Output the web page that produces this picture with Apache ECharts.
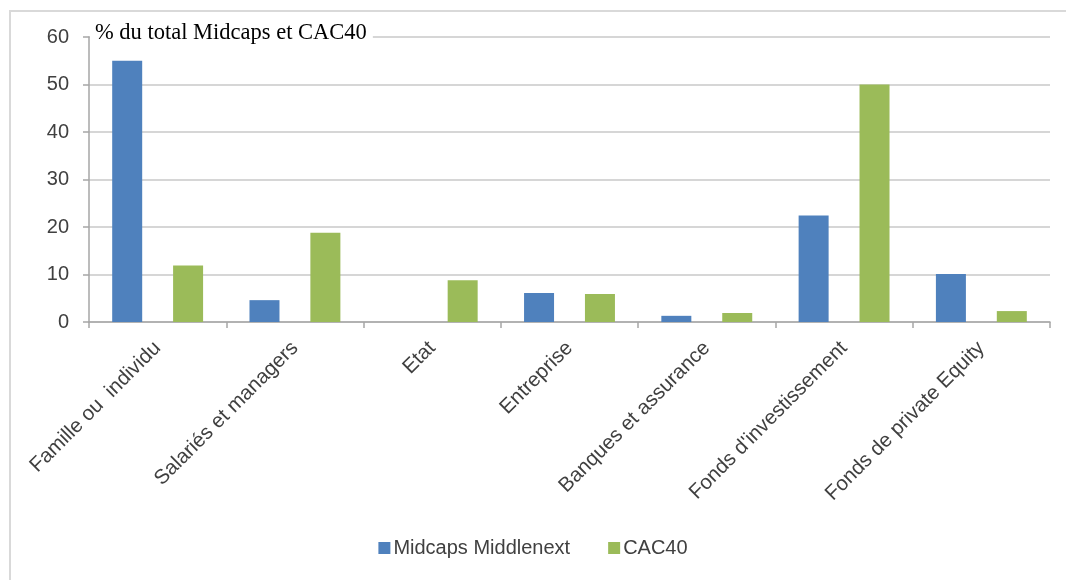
<!DOCTYPE html>
<html>
<head>
<meta charset="utf-8">
<script src="https://cdn.jsdelivr.net/npm/echarts@6/dist/echarts.min.js"></script>
<style>
  html, body { margin: 0; padding: 0; background: #fff; }
  #chart { width: 1066px; height: 580px; }
</style>
</head>
<body>
<div id="chart"></div>
<script>
// catégories et valeurs (% du total)
const categories = [
  'Famille ou  individu',
  'Salariés et managers',
  'Etat',
  'Entreprise',
  'Banques et assurance',
  "Fonds d'investissement",
  'Fonds de private Equity'
];
const midcaps = [55, 4.6, 0, 6.1, 1.3, 22.4, 10.1];
const cac40 = [11.9, 18.8, 8.8, 5.9, 1.9, 50, 2.3];
const yTicks = [0, 60, 10]; // min, max, interval

let chart = echarts.init(document.getElementById('chart'));

let option = {
  animation: false,
  color: ['#4F81BD', '#9BBB59'],
  title: {
    text: '% du total Midcaps et CAC40',
    left: 90,
    top: 20,
    padding: [2, 6, 4, 5],
    backgroundColor: '#fff',
    textStyle: {
      fontFamily: 'Liberation Serif',
      fontWeight: 'normal',
      fontSize: 22.5,
      color: '#000'
    }
  },
  graphic: [{
    type: 'rect',
    shape: { x: 10, y: 11, width: 1080, height: 600 },
    style: { fill: 'none', stroke: '#d9d9d9', lineWidth: 2 },
    silent: true
  }],
  legend: {
    bottom: 17,
    left: 'center',
    icon: 'rect',
    itemWidth: 12,
    itemHeight: 12,
    itemGap: 38,
    textStyle: {
      fontFamily: 'Liberation Sans',
      fontSize: 20,
      color: '#404040',
      padding: [0, 0, 0, -2]
    },
    data: ['Midcaps Middlenext', 'CAC40']
  },
  grid: {
    left: 89,
    right: 16,
    top: 37,
    bottom: 258
  },
  xAxis: {
    type: 'category',
    data: categories,
    axisLine: { lineStyle: { color: '#a6a6a6', width: 1.5 } },
    axisTick: { show: true, length: 6, lineStyle: { color: '#a6a6a6', width: 1.5 } },
    axisLabel: {
      rotate: 45,
      interval: 0,
      margin: 23,
      fontFamily: 'Liberation Sans',
      fontSize: 20.5,
      color: '#404040'
    }
  },
  yAxis: {
    type: 'value',
    min: yTicks[0],
    max: yTicks[1],
    interval: yTicks[2],
    axisLine: { show: true, lineStyle: { color: '#a6a6a6', width: 1.5 } },
    axisTick: { show: true, length: 6, lineStyle: { color: '#a6a6a6', width: 1.5 } },
    splitLine: { lineStyle: { color: '#c8c8c8', width: 1.5 } },
    axisLabel: {
      margin: 20,
      fontFamily: 'Liberation Sans',
      fontSize: 20,
      color: '#404040'
    }
  },
  series: [
    {
      name: 'Midcaps Middlenext',
      type: 'bar',
      data: midcaps,
      barWidth: 30,
      barGap: '103%'
    },
    {
      name: 'CAC40',
      type: 'bar',
      data: cac40,
      barWidth: 30
    }
  ]
};

chart.setOption(option);
</script>
</body>
</html>
